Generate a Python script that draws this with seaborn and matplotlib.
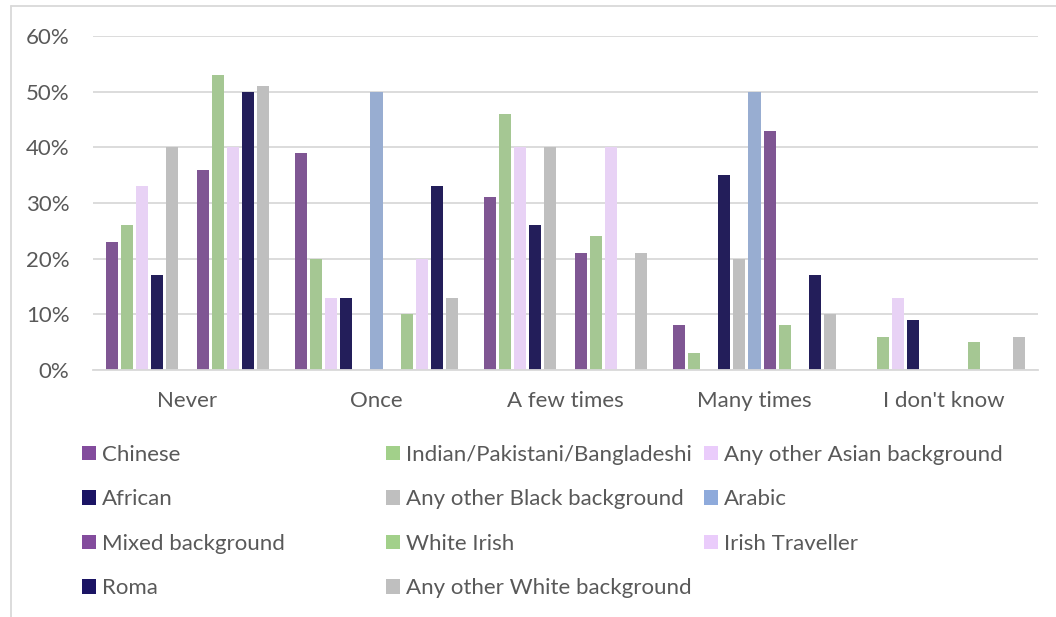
import matplotlib
matplotlib.use("Agg")
import matplotlib.pyplot as plt
from matplotlib.patches import Patch
from matplotlib.lines import Line2D
import seaborn as sns
import pandas as pd

categories = ["Never", "Once", "A few times", "Many times", "I don't know"]

groups = [
    "Chinese", "Indian/Pakistani/Bangladeshi", "Any other Asian background",
    "African", "Any other Black background", "Arabic",
    "Mixed background", "White Irish", "Irish Traveller",
    "Roma", "Any other White background",
]

# percentage per group, in category order
chinese = [23, 39, 31, 8, 0]
indian = [26, 20, 46, 3, 6]
other_asian = [33, 13, 40, 0, 13]
african = [17, 13, 26, 35, 9]
other_black = [40, 0, 40, 20, 0]
arabic = [0, 50, 0, 50, 0]
mixed = [36, 0, 21, 43, 0]
white_irish = [53, 10, 24, 8, 5]
traveller = [40, 20, 40, 0, 0]
roma = [50, 33, 0, 17, 0]
other_white = [51, 13, 21, 10, 6]

values = [chinese, indian, other_asian, african, other_black, arabic,
          mixed, white_irish, traveller, roma, other_white]

colors = ["#834C9D", "#A2D08A", "#EACCFB", "#1B1464", "#BFBFBF", "#8EAADB",
          "#834C9D", "#A2D08A", "#EACCFB", "#1B1464", "#BFBFBF"]
palette = dict(zip(groups, colors))

rows = []
for g, vals in zip(groups, values):
    for c, v in zip(categories, vals):
        rows.append({"category": c, "group": g, "pct": v})
df = pd.DataFrame(rows)

sns.set_style("white")
plt.rcParams["font.family"] = ["Lato", "DejaVu Sans"]

fig = plt.figure(figsize=(10.56, 6.17), dpi=100)
ax = fig.add_axes([93 / 1056, 1 - 370 / 617, 945 / 1056, 334 / 617])

sns.barplot(data=df, x="category", y="pct", hue="group", order=categories,
            hue_order=groups, palette=palette, width=0.88, gap=0.2,
            linewidth=0, legend=False, ax=ax)

ax.set_ylim(0, 60)
ax.set_yticks(range(0, 61, 10))
ax.set_yticklabels([f"{t}%" for t in range(0, 61, 10)])
ax.set_xlabel("")
ax.set_ylabel("")
ax.yaxis.grid(True, color="#D9D9D9", linewidth=1.3)
ax.set_axisbelow(True)
for s in ["left", "right", "top"]:
    ax.spines[s].set_visible(False)
ax.spines["bottom"].set_color("#D9D9D9")
ax.spines["bottom"].set_linewidth(1.3)
ax.tick_params(axis="both", length=0, labelsize=16, labelcolor="#595959")
ax.tick_params(axis="x", pad=15)
ax.tick_params(axis="y", pad=17)

# legend: three columns placed at fixed x positions, like the original
cols = [[0, 3, 6, 9], [1, 4, 7, 10], [2, 5, 8]]
col_x = [82 / 1056, 386 / 1056, 704 / 1056]
for idx, x in zip(cols, col_x):
    handles = [Patch(facecolor=colors[i], edgecolor="none") for i in idx]
    fig.legend(handles, [groups[i] for i in idx], loc="upper left",
               bbox_to_anchor=(x, 1 - 445 / 617), frameon=False,
               fontsize=16, labelcolor="#595959", handlelength=0.63,
               handleheight=0.63, handletextpad=0.27, labelspacing=1.1,
               borderpad=0, borderaxespad=0)

# outer chart frame
fig.add_artist(Line2D([11 / 1056, 11 / 1056], [0, 1 - 6 / 617],
                      transform=fig.transFigure, color="#D9D9D9", linewidth=1.3))
fig.add_artist(Line2D([11 / 1056, 1], [1 - 6 / 617, 1 - 6 / 617],
                      transform=fig.transFigure, color="#D9D9D9", linewidth=1.3))

fig.savefig("out.png", dpi=100, facecolor="white")
